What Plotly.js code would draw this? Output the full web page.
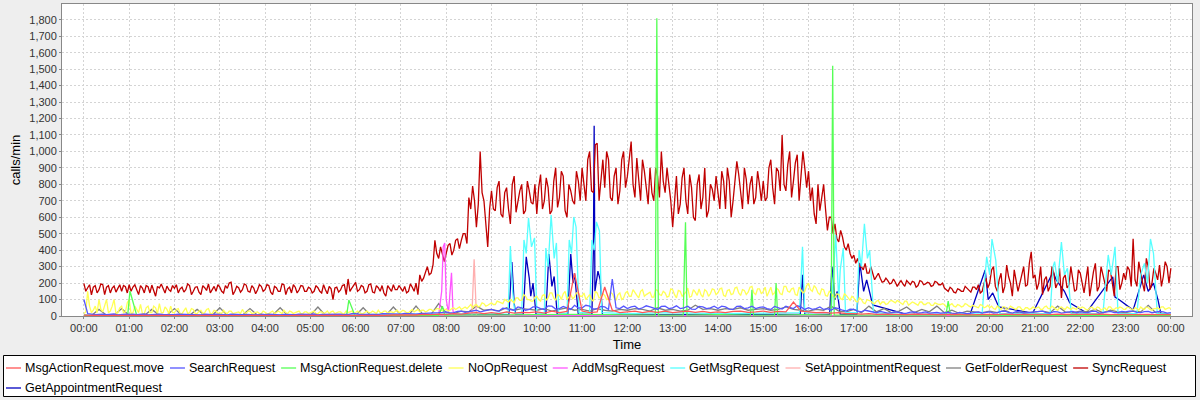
<!DOCTYPE html>
<html><head><meta charset="utf-8">
<script src="https://cdn.plot.ly/plotly-3.0.1.min.js"></script>
<style>html,body{margin:0;padding:0;background:#eeeeee}#chart{width:1200px;height:400px}</style>
</head><body><div id="chart"></div>
<script>
// ---------- series names & colours (legend order) ----------
const seriesNames = ["MsgActionRequest.move","SearchRequest","MsgActionRequest.delete","NoOpRequest","AddMsgRequest","GetMsgRequest","SetAppointmentRequest","GetFolderRequest","SyncRequest","GetAppointmentRequest"];
const seriesColors = ["#ff5555","#5555ff","#55ff55","#ffff55","#ff55ff","#55ffff","#ffafaf","#808080","#c00000","#0000c0"];

// ---------- SyncRequest: values at hh:m0/m5 and at the half-way minutes (+2.5 min) ----------
const syncValues = [
198,172,128,185,160,190,175,140,182,168,150,178,
190,176,160,185,140,178,188,120,170,165,182,150,
168,140,175,160,185,150,178,130,172,195,160,150,
175,140,168,205,150,172,160,188,145,170,158,180,
160,185,130,172,150,190,165,140,175,158,182,150,
168,150,172,140,160,180,100,175,158,190,225,170,
205,160,178,150,195,140,172,185,120,170,190,160,
168,180,150,175,200,250,230,300,260,460,350,380,
380,440,400,470,460,500,720,790,540,1000,700,420,
760,640,820,600,780,560,850,700,800,640,760,680,
620,860,700,780,640,900,720,850,600,760,680,820,
900,700,1000,750,1050,820,780,950,700,900,760,1000,
850,1060,720,800,950,780,900,700,850,1000,750,800,
540,850,680,900,620,780,580,860,720,600,800,700,
750,880,650,820,700,940,760,900,680,850,720,800,
820,720,950,680,880,1100,760,1000,820,980,850,900,
880,780,560,640,800,520,600,560,450,480,400,380,
370,350,300,320,260,250,240,230,210,215,200,205,
200,195,215,190,205,185,210,195,200,185,205,190,
170,150,165,140,160,150,170,145,175,190,150,230,
200,300,150,260,180,240,120,220,200,300,190,390,
250,200,130,240,180,260,200,110,250,190,230,160,
260,140,300,200,320,180,250,150,270,120,300,200,
220,280,470,180,250,150,300,200,260,310,240,300,
290];
const syncMidValues = [
150,190,175,140,195,130,185,170,145,190,185,140,
150,190,130,170,185,140,160,180,195,140,160,185,
190,165,145,195,130,175,145,185,155,140,180,190,
150,185,200,130,180,145,195,150,185,135,190,150,
190,145,180,150,195,130,175,190,140,185,150,175,
140,185,150,190,135,165,170,145,185,130,150,190,
150,185,140,190,145,185,150,140,185,150,160,185,
150,140,195,150,130,210,270,250,310,380,420,330,
430,370,460,410,500,440,650,700,680,750,560,650,
650,780,620,750,650,800,630,760,620,820,690,800,
780,650,840,620,820,660,880,640,800,700,880,700,
780,950,760,1040,700,950,1000,720,850,680,950,780,
980,800,960,700,880,680,750,900,720,820,900,700,
720,620,840,700,860,600,800,650,900,640,770,850,
650,820,900,600,800,860,650,830,800,680,880,700,
700,900,780,900,760,800,920,720,930,700,1000,780,
700,620,800,720,650,600,500,470,520,420,440,350,
320,300,280,260,300,220,260,205,230,195,225,180,
215,180,200,210,175,215,190,205,180,210,190,200,
160,175,145,165,150,180,155,175,160,140,200,170,
280,180,220,140,310,200,280,150,260,180,320,230,
160,300,220,150,300,170,290,230,170,300,150,280,
190,220,120,270,150,300,190,280,200,300,160,260,
300,180,220,330,200,350,160,290,220,180,330,200];

// ---------- NoOpRequest (5-minute + half-way) ----------
const noOpValues = [
15,150,20,60,100,25,100,30,100,20,60,25,
100,20,40,70,15,60,20,50,75,20,40,60,
20,45,15,50,20,40,15,35,20,45,15,30,
20,35,15,30,20,25,40,15,30,20,25,15,
25,15,30,20,20,35,15,25,20,30,15,25,
20,30,15,25,20,15,30,20,25,15,20,30,
20,25,15,30,20,25,35,20,30,25,20,35,
25,30,20,40,30,25,35,30,40,35,45,30,
40,35,50,45,40,55,60,50,70,60,75,65,
80,70,85,75,90,100,80,110,95,120,100,90,
120,90,130,110,140,95,125,135,100,130,115,140,
120,100,130,90,140,115,125,105,135,95,140,110,
150,120,140,110,160,130,145,115,155,125,140,120,
160,110,150,130,170,120,145,165,115,150,135,160,
140,170,120,160,135,175,125,155,145,180,130,165,
150,120,175,140,160,130,180,145,170,125,160,150,
200,150,170,130,160,120,140,110,130,100,125,95,
110,85,100,75,95,80,90,70,85,75,95,80,
85,70,90,75,80,65,85,70,80,65,75,70,
70,60,75,55,65,60,70,55,60,50,65,55,
50,45,60,40,55,45,50,40,55,35,50,45,
45,55,40,60,45,50,35,55,40,45,50,40,
45,50,35,55,40,50,45,35,55,40,45,50,
40,50,35,45,55,40,50,35,45,40,55,45,
45];
const noOpMidValues = [
25,60,35,20,40,70,20,60,15,50,20,80,
15,60,20,15,50,20,60,15,20,55,15,20,
40,15,35,15,45,15,30,15,40,15,35,15,
15,20,30,15,25,15,20,30,15,25,15,30,
15,25,15,30,15,20,30,15,25,15,25,15,
25,15,25,15,30,25,15,25,15,30,25,15,
30,15,25,20,30,15,20,30,15,25,30,20,
35,20,30,25,40,35,25,40,30,45,35,40,
30,45,40,55,50,45,70,65,55,80,60,75,
70,90,80,100,85,90,110,95,130,100,90,115,
100,125,95,140,110,130,100,150,115,105,140,120,
140,115,100,150,110,135,100,145,110,130,100,140,
120,160,125,150,120,140,115,160,130,150,115,165,
130,155,120,145,115,160,125,130,160,120,165,130,
165,125,155,130,170,140,160,130,175,140,165,135,
175,145,130,170,135,180,150,165,130,175,140,185,
160,185,140,165,125,150,120,135,105,135,110,120,
90,110,80,100,90,75,95,85,70,90,85,95,
75,90,65,85,70,85,70,80,65,80,70,75,
55,70,60,70,55,75,60,65,55,70,50,65,
60,40,50,55,40,60,45,55,40,50,40,55,
50,40,55,45,60,40,50,45,55,40,45,55,
55,40,50,45,55,35,50,55,40,50,55,40,
55,40,50,35,45,55,40,45,50,55,40,50];

// ---------- SearchRequest (10-minute + half-way) ----------
const searchValues = [
100,12,10,8,12,10, 10,8,12,9,11,8, 8,10,7,9,11,8, 9,7,10,8,9,7,
8,10,7,9,8,10, 9,7,10,8,12,9, 15,10,12,9,14,11, 12,15,11,16,18,20,
25,20,30,25,35,30, 40,30,45,35,50,40, 55,40,60,45,50,65, 50,60,45,55,225,45,
45,60,50,55,40,60, 50,45,60,40,55,50, 45,55,40,60,50,45, 55,40,50,60,45,55,
50,45,40,35,45,30, 40,25,30,20,25,20, 22,18,25,20,18,22, 20,18,22,15,20,18,
25,20,30,18,25,20, 22,30,18,25,20,28, 25,20,30,22,28,20, 25,30,20,28,22,25,
20];
const searchMidValues = [
15,8,12,10,7,12, 12,10,7,13,9,11, 11,8,10,7,9,12, 8,11,7,10,8,11,
11,7,10,8,11,7, 12,9,8,11,9,14, 10,13,9,14,10,13, 16,11,15,13,17,22,
18,28,22,32,25,38, 32,48,38,55,35,55, 45,62,42,58,40,48, 65,42,58,40,50,60,
55,42,62,45,58,45, 62,50,42,58,45,60, 60,42,58,45,60,52, 45,58,42,52,62,40,
40,55,45,50,35,42, 30,35,22,28,18,25, 15,24,18,25,22,17, 22,15,20,18,25,22,
18,28,22,26,18,24, 28,20,26,18,25,20, 22,28,18,26,20,28, 30,22,26,20,28,18];

// ---------- 10-minute series ----------
const getFolderValues = [
5,3,40,5,3,45, 4,5,3,40,4,5, 45,3,4,40,5,3, 50,4,3,5,45,4,
3,5,50,4,3,5, 4,55,3,5,4,5, 3,50,4,5,3,55, 5,4,60,5,10,75,
20,15,30,25,60,35, 40,30,50,35,45,40, 35,45,30,40,50,35, 40,30,45,35,30,40,
35,45,40,30,50,35, 40,30,35,65,40,45, 35,45,40,50,35,40, 45,35,40,55,40,35,
30,40,35,60,30,25, 40,20,60,25,45,20, 30,55,20,40,25,60, 20,35,15,30,25,20,
30,20,35,15,25,20, 25,30,20,60,25,20, 30,25,40,20,35,25, 20,30,25,65,20,15,
10];

const moveValues = [
5,3,4,2,3,4, 3,2,4,3,2,3, 2,3,2,4,3,2, 3,2,3,2,4,3,
2,3,4,2,3,2, 3,2,3,4,2,3, 4,3,5,3,4,6, 5,8,6,10,8,12,
10,15,12,18,20,15, 20,15,25,18,22,20, 25,18,30,20,28,260, 30,20,25,176,35,20,
25,30,20,28,22,30, 20,25,30,22,28,20, 25,20,28,30,22,25, 30,22,28,25,85,30,
25,20,22,18,20,15, 15,12,14,10,12,10, 10,8,12,9,10,8, 9,8,10,7,9,8,
10,8,12,9,10,8, 9,10,8,12,9,10, 8,10,9,12,8,10, 9,8,10,9,8,10,
8];

// ---------- irregular series (time, value) ----------
const deleteTimes = ["00:00","00:58","01:01","01:10","03:00","05:48","05:51","05:59","07:50","07:55","07:58","09:00","10:00","11:00","12:00","12:37","12:39","12:41","13:14","13:17","13:19","14:00","14:43","14:45","14:47","15:15","15:17","15:19","16:00","16:30","16:32","16:34","17:00","19:02","19:05","19:08","21:00","24:00"];
const deleteValues = [2,2,152,3,2,2,97,3,3,60,5,5,8,10,8,5,1810,5,5,570,5,8,5,160,5,5,200,5,8,5,1520,5,5,5,90,5,3,2];

const addMsgTimes = ["00:00","07:40","07:50","07:54","07:56","07:58","08:00","08:03","08:05","08:07","08:09","08:12","10:00","16:00","24:00"];
const addMsgValues = [0,2,5,150,420,444,100,20,150,262,30,3,3,3,0];

const setApptTimes = ["00:00","08:34","08:37","08:40","16:00","24:00"];
const setApptValues = [0,2,345,2,3,0];

const getMsgTimes = ["00:00","02:00","04:00","06:00","08:00","09:00","09:22","09:25","09:28","09:31","09:40","09:43","09:46","09:49","09:53","09:57","10:00","10:10","10:12","10:15","10:19","10:23","10:26","10:29","10:40","10:43","10:46","10:49","10:52","10:56","11:10","11:13","11:16","11:19","11:23","11:26","12:00","13:00","14:00","15:00","15:48","15:52","15:55","16:30","16:36","16:40","16:42","16:46","16:49","17:04","17:07","17:10","17:14","17:18","17:21","17:26","18:00","19:00","19:50","19:53","19:56","20:00","20:03","20:08","20:13","21:20","21:24","21:26","21:30","21:35","21:39","21:43","21:48","22:30","22:37","22:41","22:46","22:50","23:15","23:20","23:25","23:29","23:33","23:37","23:42","24:00"];
const getMsgValues = [5,8,5,8,10,15,20,425,150,15,20,462,380,596,420,475,20,15,413,300,614,350,444,20,15,462,380,602,541,20,20,462,400,572,517,20,15,20,15,20,20,420,20,20,493,100,280,413,20,20,400,300,560,350,400,20,10,10,15,200,360,250,468,340,15,15,300,330,200,450,250,290,15,15,371,250,420,15,15,250,320,200,468,380,15,10];

const getApptTimes = ["00:00","03:00","06:00","08:00","09:00","09:23","09:27","09:30","09:32","09:42","09:46","09:50","09:52","09:55","09:59","10:12","10:16","10:20","10:23","10:27","10:41","10:45","10:48","10:50","10:55","11:13","11:15","11:16","11:17","11:21","11:24","11:27","12:00","14:00","15:49","15:52","15:55","16:28","16:31","16:35","16:38","16:42","17:04","17:08","17:13","17:17","17:25","18:10","19:34","19:54","19:58","20:04","20:12","20:57","21:24","21:28","21:35","21:39","21:46","22:08","22:43","22:46","22:52","23:10","23:24","23:30","23:37","23:43","23:47","24:00"];
const getApptValues = [3,2,3,5,8,10,328,80,10,10,360,230,120,200,10,10,377,180,240,10,10,377,200,260,10,10,400,1156,150,273,220,10,8,10,10,250,10,10,300,100,150,10,10,322,150,220,67,10,10,280,100,140,55,18,268,220,176,150,80,20,238,115,97,36,250,150,200,97,10,5];

// ---------- helpers ----------
const pad = n => String(n).padStart(2,'0');
function minToDate(total){
  const secs = Math.round(total*60);
  const day = secs >= 86400 ? 2 : 1;
  const s = secs % 86400;
  return `2012-01-0${day} ${pad(Math.floor(s/3600))}:${pad(Math.floor(s/60)%60)}:${pad(s%60)}`;
}
function hmToDate(hm){ const [h,m] = hm.split(':').map(Number); return minToDate(h*60+m); }
// regular grid, optionally with a second array of values at the half-way points
function regular(base, mid, step){
  const xs = [], ys = [];
  base.forEach((v,i) => {
    xs.push(minToDate(i*step)); ys.push(v);
    if (mid && i < mid.length) { xs.push(minToDate(i*step + step/2)); ys.push(mid[i]); }
  });
  return {x:xs, y:ys};
}
const irregular = (times, vals) => ({x:times.map(hmToDate), y:vals});

const seriesData = [
  regular(moveValues, null, 10),
  regular(searchValues, searchMidValues, 10),
  irregular(deleteTimes, deleteValues),
  regular(noOpValues, noOpMidValues, 5),
  irregular(addMsgTimes, addMsgValues),
  irregular(getMsgTimes, getMsgValues),
  irregular(setApptTimes, setApptValues),
  regular(getFolderValues, null, 10),
  regular(syncValues, syncMidValues, 5),
  irregular(getApptTimes, getApptValues)
];

// draw last series first (first series on top)
const traces = [];
for (let i = seriesNames.length - 1; i >= 0; i--) {
  traces.push({type:'scatter', mode:'lines', name:seriesNames[i], x:seriesData[i].x, y:seriesData[i].y,
    line:{color:seriesColors[i], width:1.3}, showlegend:false, hoverinfo:'skip'});
}

// ---------- layout ----------
const W = 1200, H = 400, M = {l:62, r:8, t:4, b:84};
const pw = W - M.l - M.r, ph = H - M.t - M.b;
const px2x = px => (px - M.l) / pw;
const py2y = py => (H - M.b - py) / ph;

// manual legend in JFreeChart style
const legendFont = "Liberation Sans";
const legendSize = 12.5;
const ctx = document.createElement('canvas').getContext('2d');
ctx.font = `${legendSize}px '${legendFont}'`;
const shapes = [{type:'rect', xref:'paper', yref:'paper', x0:px2x(3.5), x1:px2x(1195.5), y0:py2y(355.5), y1:py2y(396.5),
  line:{color:'#000000', width:1}, fillcolor:'#ffffff', layer:'below'}];
const annotations = [];
const rowY = [368, 388];
let lx = 6, row = 0;
seriesNames.forEach((name, i) => {
  const tw = ctx.measureText(name).width;
  const itemW = 15 + 3 + tw;
  if (lx + itemW > 1192) { row++; lx = 6; }
  const yy = rowY[row];
  shapes.push({type:'line', xref:'paper', yref:'paper', x0:px2x(lx), x1:px2x(lx+15), y0:py2y(yy), y1:py2y(yy),
    line:{color:seriesColors[i], width:1.3}});
  annotations.push({xref:'paper', yref:'paper', x:px2x(lx+18), y:py2y(yy), xanchor:'left', yanchor:'middle',
    text:name, showarrow:false, borderpad:0, font:{family:legendFont, size:legendSize, color:'#000000'}});
  lx += itemW + 7;
});

const tickFont = {family:'Liberation Sans', size:11, color:'#333333'};
const layout = {
  width:W, height:H, margin:M,
  paper_bgcolor:'#eeeeee', plot_bgcolor:'#ffffff',
  showlegend:false,
  xaxis:{type:'date', range:['2011-12-31 23:31','2012-01-02 00:28'], tick0:'2012-01-01 00:00', dtick:3600000,
    tickformat:'%H:%M', tickfont:tickFont, ticks:'outside', ticklen:2, tickcolor:'#888888',
    showgrid:true, gridcolor:'#d4d4d4', griddash:'2px,2px', gridwidth:1, zeroline:false,
    showline:true, linecolor:'#888888', linewidth:1, mirror:true, automargin:false,
    title:{text:'Time', font:{family:'Liberation Sans', size:13, color:'#000000'}, standoff:6}},
  yaxis:{range:[0,1896], dtick:100, tickformat:',d', tickfont:tickFont, ticks:'outside', ticklen:2, tickcolor:'#888888',
    showgrid:true, gridcolor:'#d4d4d4', griddash:'2px,2px', gridwidth:1, zeroline:false,
    showline:true, linecolor:'#888888', linewidth:1, mirror:true, automargin:false,
    title:{text:'calls/min', font:{family:'Liberation Sans', size:13, color:'#000000'}, standoff:5}},
  shapes:shapes, annotations:annotations
};

Plotly.newPlot('chart', traces, layout, {staticPlot:true, displayModeBar:false});
</script>
</body></html>
